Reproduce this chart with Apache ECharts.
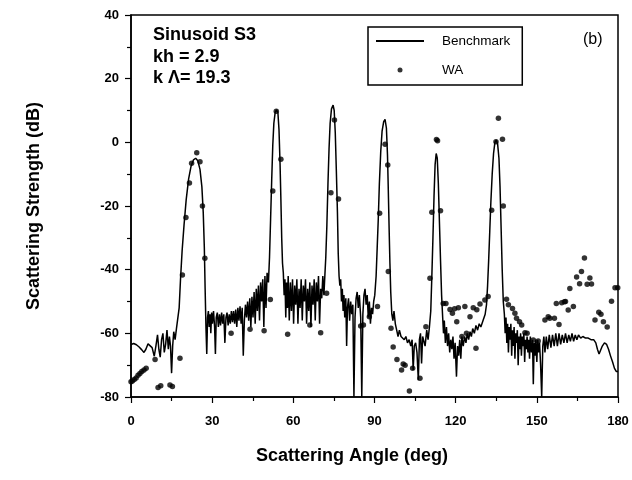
<!DOCTYPE html>
<html>
<head>
<meta charset="utf-8">
<script src="https://cdn.jsdelivr.net/npm/echarts@6/dist/echarts.min.js"></script>
<style>html,body{margin:0;padding:0;background:#fff;}#c{width:632px;height:480px;}</style>
</head>
<body>
<div id="c"></div>
<script>
// Benchmark curve (angle in deg, scattering strength in dB)
const benchAngle = [
0,1,2,3,4,4.8,5.5,6.3,7,7.8,8.6,9.2,9.8,10.3,10.8,11.3,11.8,12.3,12.8,13.3,13.8,14.2,14.6,15,15.4,15.8,16.3,16.8,17.3,
17.8,18.3,18.9,19.6,20.4,21.3,22.2,23.1,23.9,24.7,25.5,26.2,26.7,27.1,27.4,27.7,28,28.3,
28.6,28.9,29.2,29.5,29.8,30.1,30.5,30.9,31.2,31.5,31.9,32.3,32.7,33.1,33.5,33.9,34.3,34.7,35.1,35.5,35.9,36.3,36.7,37.1,37.5,37.9,38.3,38.7,39.1,39.5,39.9,40.3,40.7,41.1,41.5,41.9,42.3,42.7,43.1,43.5,43.9,44.3,44.7,45.1,45.5,45.9,46.3,46.7,47.1,47.5,47.9,48.3,48.7,49.1,49.5,49.9,50.3,50.8,
51.2,51.6,52,52.4,52.8,53.3,53.8,54.3,54.7,55.1,55.4,55.7,56,
56.3,56.6,56.9,57.2,57.5,57.8,58.1,58.5,58.9,59.3,59.7,60.1,60.5,60.9,61.3,61.7,62.1,62.5,62.9,63.3,63.7,64.1,64.5,64.9,65.3,65.7,66.1,66.5,66.9,67.3,67.7,68.1,68.5,68.9,69.3,69.7,70.1,70.5,70.9,71.3,71.7,72,
72.4,72.8,73.2,73.6,74.1,74.7,75.1,75.5,75.9,76.3,76.6,
76.9,77.2,77.5,77.8,78.1,78.4,78.7,79,79.4,79.7,80,80.4,80.8,81.2,81.6,82,82.4,82.8,83.2,83.6,84,84.4,84.9,85.3,85.7,86.1,86.5,86.9,87.3,87.7,88.1,88.5,88.9,89.3,89.7,90.1,90.6,
91,91.4,91.8,92.3,92.8,93.4,93.9,94.4,94.8,95.1,95.4,95.7,
96,96.4,96.8,97.2,97.7,98.2,98.7,99.2,99.8,100.4,101,101.6,102.2,102.8,103.4,103.9,104.3,104.7,105.2,105.7,106.2,106.6,107,107.4,107.8,108.2,108.7,109.3,109.8,110.3,110.8,
111.2,111.6,112,112.4,112.8,113.2,113.6,114,114.4,114.8,
115.2,115.5,115.8,116.2,116.6,117,117.4,117.8,118.2,118.6,119,119.4,119.8,120.3,120.7,121.1,121.5,121.9,122.3,122.8,123.3,123.8,124.3,124.8,125.3,125.8,126.3,126.9,127.5,128.1,128.7,129.3,129.9,130.4,130.9,131.4,
131.8,132.2,132.6,133,133.5,134,134.5,135,135.5,136,136.4,136.8,137.2,137.6,
138,138.3,138.6,138.9,139.2,139.5,139.8,140.1,140.4,140.7,141,141.3,141.6,141.9,142.2,142.5,142.8,143.1,143.4,143.7,144,144.3,144.6,144.9,145.2,145.5,145.8,146.1,146.4,146.7,147,147.3,147.6,148,148.4,148.7,149,149.3,149.6,150,150.3,150.6,151,151.4,151.8,152.2,152.6,153,
153.5,154,154.6,155.2,155.8,156.4,157,157.6,158.2,158.8,159.4,160,160.6,161.2,161.8,162.4,163,163.6,164.2,164.8,165.4,166.2,167,168,169,170,171,171.8,172.4,173,173.5,174.2,175,175.8,176.5,177.2,178,178.7,179.4,180
];
const benchDb = [
-63.5,-63.2,-63.6,-64.3,-65.2,-66,-65,-63.3,-63,-64.5,-67.2,-64,-60.5,-65,-67.5,-62,-60,-66,-63.5,-59,-65,-61,-64,-72.5,-64,-59.5,-62,-58.5,-58,
-52,-43,-34,-26,-18,-11.5,-7.5,-5.5,-5,-5.8,-8.5,-14,-22,-33,-46,-58,-66.5,-55,
-53,-58,-54,-60,-53.5,-57,-53,-58,-66.5,-55,-53.5,-58,-54,-57.5,-53.5,-57,-54,-63,-55,-53.5,-57.5,-54,-57,-53,-56.5,-53,-57,-52.5,-58,-52,-56,-51.5,-57,-52,-67,-56,-51,-55,-50,-56,-49,-58,-48.5,-55,-47,-57,-46,-53,-45,-56,-44,-50,-43,-58,-42,-52,-41,-44,
-36,-24,-12,-1,6,9.5,10.2,9.3,4,-7,-18,-30,-38,
-41,-48,-43,-55,-44,-52,-42,-56,-44,-53,-43,-57,-45,-51,-43,-57,-46,-52,-43,-56,-45,-50,-43,-57,-46,-53,-44,-58,-45,-51,-43,-56,-44,-50,-42,-57,-46,-49,-42,-48,-41,-36,
-26,-13,-2,6,10.5,11.7,10,3,-9,-22,-35,
-42,-45,-43,-50,-46,-53,-48,-55,-49,-64,-52,-49,-56,-50,-54,-51,-80,-55,-49,-47,-52,-48,-55,-80,-54,-48,-46,-51,-48,-55,-50,-57,-52,-54,-50,-48,-42,
-33,-24,-13,-3,3.5,6.5,7.2,4.5,-4,-15,-27,-38,
-47,-54,-56,-53,-57,-59,-61,-59,-61,-61.5,-62,-61,-63,-62,-64,-62,-71.5,-64,-63,-66,-74.7,-62,-60,-69.5,-61,-60.5,-64,-59,-62,-58,-53,
-42,-30,-17,-7,-3.5,-5,-13,-25,-37,-48,
-55,-60,-56,-63,-58,-64,-60,-66,-62,-65,-61,-68,-63,-73.6,-64,-67,-62,-68,-61,-64,-61,-63,-60,-62,-59.5,-61,-58.5,-60,-57.5,-59,-57,-58,-56.5,-57,-54,-51,
-45,-37,-28,-19,-10,-3.5,0,0.7,-0.5,-5,-14,-27,-40,-50,
-54,-60,-55,-63,-57,-66,-58,-62,-57,-67,-59,-64,-58,-68,-60,-63,-59,-70,-61,-65,-60,-67,-61,-64,-60,-69,-62,-65,-61,-66,-62,-68,-61,-66,-62,-76,-63,-67,-62,-69,-62,-66,-63,-70,-80,-64,-61,-66,
-61,-65,-60.5,-64.5,-60.5,-64,-60,-64,-60,-63.5,-60.5,-63,-60,-63,-60.5,-62.5,-60,-62.5,-60.5,-62,-60.5,-61.5,-61,-61.5,-61.5,-62,-62,-63,-65,-66.5,-66,-64,-63,-63.5,-65,-67,-69,-71,-72,-72
];
// WA points
const waAngle = [
0,0.5,1.2,1.9,2.6,3.3,4,4.8,5.6,8.9,10,11,14.4,15.3,18.1,
19,20.3,21.6,22.4,24.3,25.5,26.4,27.3,
37,44,49.2,51.5,52.4,53.7,55.4,57.9,66.1,70.1,72.3,73.9,75.2,76.7,
84.9,85.9,88.1,91.1,91.9,93.9,94.9,95.1,96.1,96.9,98.3,100,100.6,101.3,102.9,104.1,106.8,109,110.5,
111.2,112.9,113.3,114.4,115.4,116.4,117.9,118.8,119.6,120.4,121,122.3,123.4,124,125.3,126.5,127.5,127.8,129,130.8,132,
133.3,134.9,135.8,137.3,137.6,
138.8,139.5,141,141.9,142.5,143.6,144.4,145.6,146.4,148.7,150.5,
153,154.2,154.8,156.5,157.2,158.2,159.2,160.2,160.6,161.6,162.2,163.5,164.7,165.8,166.5,167.6,168.6,169.6,170.2,171.5,172.9,173.7,174.6,176,177.6,178.9,179.9
];
const waDb = [
-75.2,-75,-74.5,-74,-73.2,-72.6,-72,-71.5,-71,-68.2,-77,-76.5,-76.2,-76.7,-67.8,
-41.7,-23.6,-12.8,-6.6,-3.3,-6.1,-20,-36.4,
-60,-58.7,-59.2,-49.4,-15.3,9.8,-5.3,-60.3,-57.4,-59.8,-47.4,-15.8,7,-17.8,
-57.7,-57.4,-54.8,-51.6,-22.3,-0.6,-7.1,-40.6,-58.4,-64.3,-68.2,-71.5,-69.6,-70,-78.1,-71,-74.1,-57.9,-42.7,
-22,0.9,0.5,-21.5,-50.6,-50.6,-52.5,-53.7,-52.3,-56.4,-52,-61,-51.6,-60,-54.8,-52,-64.7,-52.6,-50.8,-49.5,-48.4,
-21.3,0.2,7.6,1,-20,
-49.3,-51,-52.2,-53.7,-55.3,-56.4,-57.4,-59.8,-60,-62.1,-62.4,
-55.8,-54.8,-55.3,-55.3,-50.6,-57.2,-50.4,-50.1,-50,-52.7,-45.9,-51.6,-42.3,-44.4,-40.6,-36.3,-44.6,-42.6,-44.5,-55.8,-53.4,-54,-56.4,-58,-49.9,-45.7,-45.7
];
const xTicks = {min: 0, max: 180, step: 30};
const yTicks = {min: -80, max: 40, step: 20};

const benchData = benchAngle.map((a, i) => [a, benchDb[i]]);
const waData = waAngle.map((a, i) => [a, waDb[i]]);

const chart = echarts.init(document.getElementById('c'), null, {renderer: 'canvas'});
const axisFont = {fontFamily: 'Liberation Sans', fontWeight: 'bold', color: '#000'};
chart.setOption({
  animation: false,
  backgroundColor: '#fff',
  grid: {left: 131, right: 14, top: 15, bottom: 83, show: true, borderColor: '#000', borderWidth: 1.5},
  xAxis: {
    type: 'value', min: xTicks.min, max: xTicks.max, interval: xTicks.step,
    name: 'Scattering Angle (deg)', nameLocation: 'middle', nameGap: 50,
    nameTextStyle: Object.assign({fontSize: 18, padding: [0, 45, 0, 0]}, axisFont),
    axisLine: {onZero: false, lineStyle: {color: '#000', width: 1.5}},
    axisTick: {show: true, length: 6, lineStyle: {color: '#000', width: 1.2}},
    minorTick: {show: true, splitNumber: 2, length: 4, lineStyle: {color: '#000', width: 1.2}},
    splitLine: {show: false},
    axisLabel: Object.assign({fontSize: 13, margin: 18}, axisFont)
  },
  yAxis: {
    type: 'value', min: yTicks.min, max: yTicks.max, interval: yTicks.step,
    name: 'Scattering Strength (dB)', nameLocation: 'middle', nameGap: 88,
    nameTextStyle: Object.assign({fontSize: 18}, axisFont),
    axisLine: {onZero: false, lineStyle: {color: '#000', width: 1.5}},
    axisTick: {show: true, length: 6, lineStyle: {color: '#000', width: 1.2}},
    minorTick: {show: true, splitNumber: 2, length: 4, lineStyle: {color: '#000', width: 1.2}},
    splitLine: {show: false},
    axisLabel: Object.assign({fontSize: 13, margin: 12}, axisFont)
  },
  legend: {
    data: [{name: 'Benchmark', itemStyle: {opacity: 0}}, 'WA'],
    orient: 'vertical', left: 368, top: 27,
    borderColor: '#000', borderWidth: 1.5, borderRadius: 0,
    padding: [7, 12, 8, 7], itemGap: 15,
    itemWidth: 48, itemHeight: 5,
    textStyle: {fontFamily: 'Liberation Sans', fontSize: 13.5, color: '#000', padding: [0, 0, 0, 13]}
  },
  graphic: [
    {type: 'text', left: 153, top: 26, style: {text: 'Sinusoid S3', font: 'bold 18px "Liberation Sans"', fill: '#000'}},
    {type: 'text', left: 153, top: 48, style: {text: 'kh = 2.9', font: 'bold 18px "Liberation Sans"', fill: '#000'}},
    {type: 'text', left: 153, top: 69, style: {text: 'k \u039B= 19.3', font: 'bold 18px "Liberation Sans"', fill: '#000'}},
    {type: 'text', left: 583, top: 32, style: {text: '(b)', font: '16px "Liberation Sans"', fill: '#000'}}
  ],
  series: [
    {name: 'Benchmark', type: 'line', data: benchData, symbol: 'none', smooth: false,
     lineStyle: {color: '#000', width: 1.5}, itemStyle: {color: '#000'}},
    {name: 'WA', type: 'scatter', data: waData, symbol: 'circle', symbolSize: 5.5,
     itemStyle: {color: '#000'}}
  ]
});
</script>
</body>
</html>
